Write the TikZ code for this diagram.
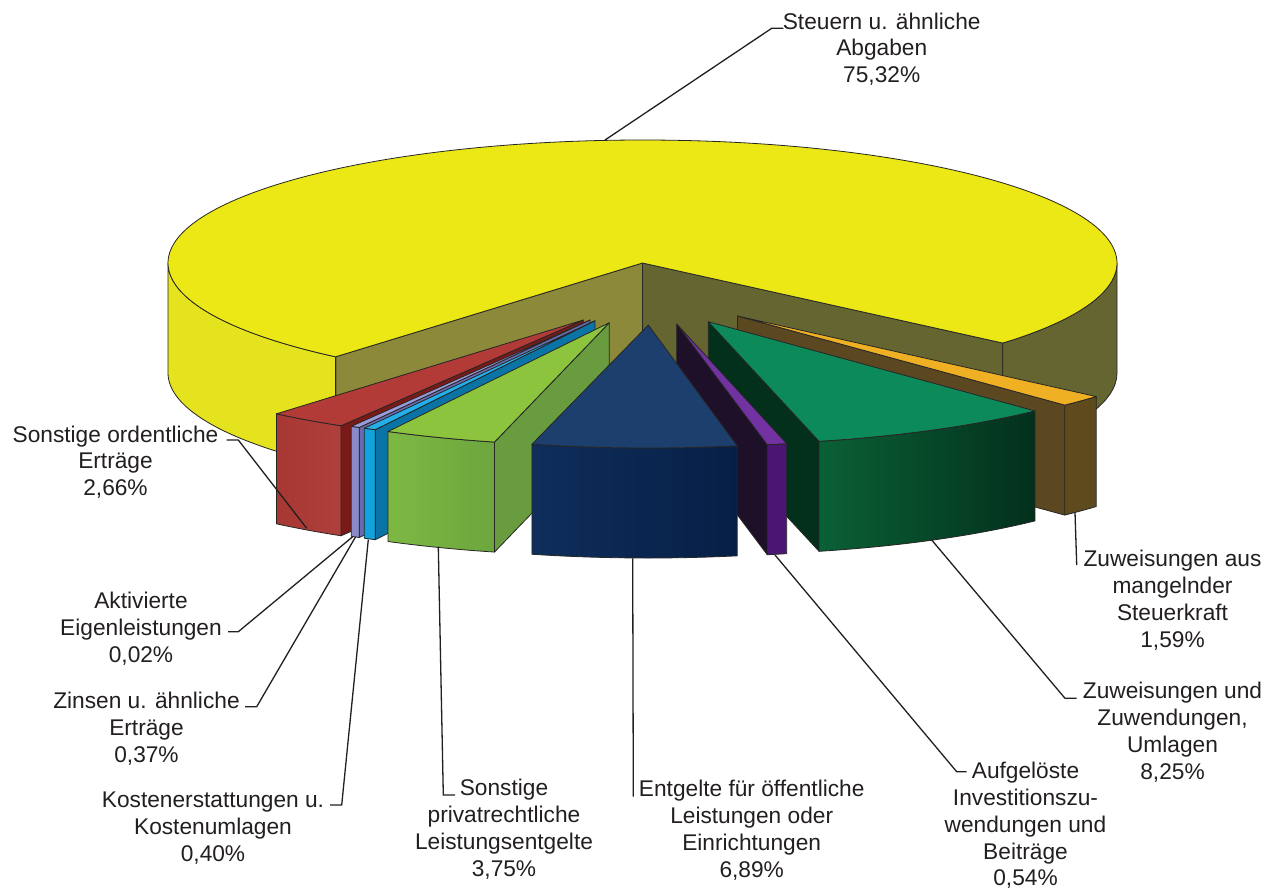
\documentclass[tikz,border=0pt]{standalone}
\usepackage{fontspec}
\setmainfont{Liberation Sans}
\usetikzlibrary{calc}
\definecolor{yelTop}{HTML}{ECE816}
\definecolor{yelSide}{HTML}{E5E31E}
\definecolor{oliveL}{HTML}{8C8A3A}
\definecolor{oliveR}{HTML}{656532}
\definecolor{redTop}{HTML}{B23B37}
\definecolor{redFa}{HTML}{A63733}
\definecolor{redFb}{HTML}{B0403B}
\definecolor{redCut}{HTML}{7A1A17}
\definecolor{lavTop}{HTML}{9A9AD8}
\definecolor{lavF}{HTML}{8A8ACA}
\definecolor{lavCut}{HTML}{6A6AB0}
\definecolor{cyanTop}{HTML}{22B0E8}
\definecolor{cyanF}{HTML}{12A2DC}
\definecolor{cyanCut}{HTML}{0A74A6}
\definecolor{lgTop}{HTML}{8CC43E}
\definecolor{lgFa}{HTML}{7EB843}
\definecolor{lgFb}{HTML}{6CA63E}
\definecolor{lgCut}{HTML}{689C3F}
\definecolor{blueTop}{HTML}{1C3F6D}
\definecolor{blueFa}{HTML}{0F2E5B}
\definecolor{blueFb}{HTML}{061F46}
\definecolor{purTop}{HTML}{7232A2}
\definecolor{purF}{HTML}{4A1672}
\definecolor{purCut}{HTML}{1E1028}
\definecolor{grnTop}{HTML}{0D8A5A}
\definecolor{grnFa}{HTML}{0A6036}
\definecolor{grnFb}{HTML}{03301C}
\definecolor{grnCut}{HTML}{02301B}
\definecolor{orTop}{HTML}{F0B024}
\definecolor{orF}{HTML}{5F4A1E}
\definecolor{orCut}{HTML}{5C4820}
\definecolor{txt}{HTML}{231F20}
% top face: cx cy a b colour
\newcommand{\pieTop}[5]{%
  \filldraw[edge, fill=#5] (#1,#2) -- ($(#1,#2)+(#3:474.5 and 123)$)
    arc[start angle=#3, end angle=#4, x radius=474.5, y radius=123] -- cycle;}
% outer face: cx cy a b leftcolour rightcolour
\newcommand{\pieOuter}[6]{%
  \draw[edge, left color=#5, right color=#6] ($(#1,#2)+(#3:474.5 and 123)$)
    arc[start angle=#3, end angle=#4, x radius=474.5, y radius=123] -- ++(0,110)
    arc[start angle=#4, end angle=#3, x radius=474.5, y radius=123] -- cycle;}
% cut face: cx cy angle colour
\newcommand{\pieCut}[4]{%
  \filldraw[edge, fill=#4] (#1,#2) -- ($(#1,#2)+(#3:474.5 and 123)$)
    -- ($(#1,#2)+(#3:474.5 and 123)+(0,110)$) -- ($(#1,#2)+(0,110)$) -- cycle;}
\begin{document}
\begin{tikzpicture}[x=1pt, y=-1pt,
  edge/.style={draw=black!85, line width=0.8pt, line join=round},
  leader/.style={draw=txt, line width=1.3pt, line join=miter},
  lab/.style={align=center, anchor=north, inner sep=0pt, text=txt,
    font=\fontsize{22.7}{26.8}\selectfont}]
\useasboundingbox (0,0) rectangle (1281,889);
\fill[white] (0,0) rectangle (1281,889);

% Steuern u. aehnliche Abgaben (yellow)
\pieCut{642.5}{263}{130.3}{oliveL}
\pieCut{642.5}{263}{40.6}{oliveR}
\pieOuter{642.5}{263}{130.3}{180}{yelSide}{yelSide}
\pieOuter{642.5}{263}{0}{40.6}{oliveR}{oliveR}
\pieTop{642.5}{263}{130.3}{400.6}{yelTop}

% Zuweisungen aus mangelnder Steuerkraft (orange)
\pieCut{737.5}{316}{46.4}{orCut}
\pieOuter{737.5}{316}{40.9}{46.4}{orF}{orF}
\pieTop{737.5}{316}{40.9}{46.4}{orTop}

% Zuweisungen und Zuwendungen (green)
\pieCut{708.3}{321.7}{76.5}{grnCut}
\pieOuter{708.3}{321.7}{46.5}{76.5}{grnFa}{grnFb}
\pieTop{708.3}{321.7}{46.5}{76.5}{grnTop}

% Aufgeloeste Investitionszuwendungen (purple)
\pieCut{676.7}{324}{79}{purCut}
\pieOuter{676.7}{324}{76.6}{79}{purF}{purF}
\pieTop{676.7}{324}{76.6}{79}{purTop}

% Sonstige ordentliche Ertraege (red)
\pieCut{583.3}{320}{120.7}{redCut}
\pieOuter{583.3}{320}{120.7}{130.3}{redFa}{redFb}
\pieTop{583.3}{320}{120.7}{130.3}{redTop}

% Zinsen (lavender)
\pieCut{590}{320}{119.1}{lavCut}
\pieOuter{590}{320}{119.1}{120.2}{lavF}{lavF}
\pieTop{590}{320}{119.1}{120.2}{lavTop}

% Kostenerstattungen (cyan)
\pieCut{595}{320.7}{117.6}{cyanCut}
\pieOuter{595}{320.7}{117.6}{119.1}{cyanF}{cyanF}
\pieTop{595}{320.7}{117.6}{119.1}{cyanTop}

% Sonstige privatrechtliche Leistungsentgelte (light green)
\pieCut{609.3}{322.7}{104}{lgCut}
\pieOuter{609.3}{322.7}{104}{117.8}{lgFa}{lgFb}
\pieTop{609.3}{322.7}{104}{117.8}{lgTop}

% Entgelte fuer oeffentliche Leistungen (dark blue)
\pieOuter{648.3}{325}{79.2}{104.2}{blueFa}{blueFb}
\pieTop{648.3}{325}{79.2}{104.2}{blueTop}

% labels
\node[lab] (lSteuern) at (881.7,12.5) {Steuern u. ähnliche\\Abgaben\\75,32\%};
\node[lab] (lSonst) at (115.5,425.5) {Sonstige ordentliche\\Erträge\\2,66\%};
\node[lab] (lAktiv) at (141,592) {Aktivierte\\Eigenleistungen\\0,02\%};
\node[lab] (lZins) at (146.5,692) {Zinsen u. ähnliche\\Erträge\\0,37\%};
\node[lab] (lKost) at (213,791.7) {Kostenerstattungen u.\\Kostenumlagen\\0,40\%};
\node[lab] (lPriv) at (504,779) {Sonstige\\privatrechtliche\\Leistungsentgelte\\3,75\%};
\node[lab] (lEntg) at (751.7,780) {Entgelte für öffentliche\\Leistungen oder\\Einrichtungen\\6,89\%};
\node[lab] (lAufg) at (1025.5,762) {Aufgelöste\\Investitionszu-\\wendungen und\\Beiträge\\0,54\%};
\node[lab] (lZuwU) at (1172.5,682) {Zuweisungen und\\Zuwendungen,\\Umlagen\\8,25\%};
\node[lab] (lZuwA) at (1172.5,550) {Zuweisungen aus\\mangelnder\\Steuerkraft\\1,59\%};

% leader coordinates
\coordinate (sSteuern) at (605,140);   \coordinate (bSteuern) at (771.7,28.3); \coordinate (eSteuern) at (783.3,28.3);
\coordinate (sSonst) at (306.7,528.3); \coordinate (bSonst) at (238.3,440);    \coordinate (eSonst) at (226.7,440);
\coordinate (sAktiv) at (352.7,536.7); \coordinate (bAktiv) at (238.3,631.7);  \coordinate (eAktiv) at (228,631.7);
\coordinate (sZins) at (355.5,537);    \coordinate (bZins) at (256.7,706.7);   \coordinate (eZins) at (245,706.7);
\coordinate (sKost) at (368.3,539.5);  \coordinate (bKost) at (341.7,805);     \coordinate (eKost) at (330,805);
\coordinate (sPriv) at (438.3,546.7);  \coordinate (bPriv) at (443.3,795);     \coordinate (ePriv) at (455,795);
\coordinate (sEntg) at (632.7,558.3);  \coordinate (eEntg) at (633.3,796.7);
\coordinate (sAufg) at (775,555);      \coordinate (bAufg) at (956.7,771.7);   \coordinate (eAufg) at (966.7,771.7);
\coordinate (sZuwU) at (931.7,540);    \coordinate (bZuwU) at (1065,698.3);    \coordinate (eZuwU) at (1076.7,698.3);
\coordinate (sZuwA) at (1075,512.5);   \coordinate (eZuwA) at (1076.7,565);

\draw[leader] (sSteuern) -- (bSteuern) -- (eSteuern);
\draw[leader] (sSonst) -- (bSonst) -- (eSonst);
\draw[leader] (sAktiv) -- (bAktiv) -- (eAktiv);
\draw[leader] (sZins) -- (bZins) -- (eZins);
\draw[leader] (sKost) -- (bKost) -- (eKost);
\draw[leader] (sPriv) -- (bPriv) -- (ePriv);
\draw[leader] (sEntg) -- (eEntg);
\draw[leader] (sAufg) -- (bAufg) -- (eAufg);
\draw[leader] (sZuwU) -- (bZuwU) -- (eZuwU);
\draw[leader] (sZuwA) -- (eZuwA);
\end{tikzpicture}
\end{document}
